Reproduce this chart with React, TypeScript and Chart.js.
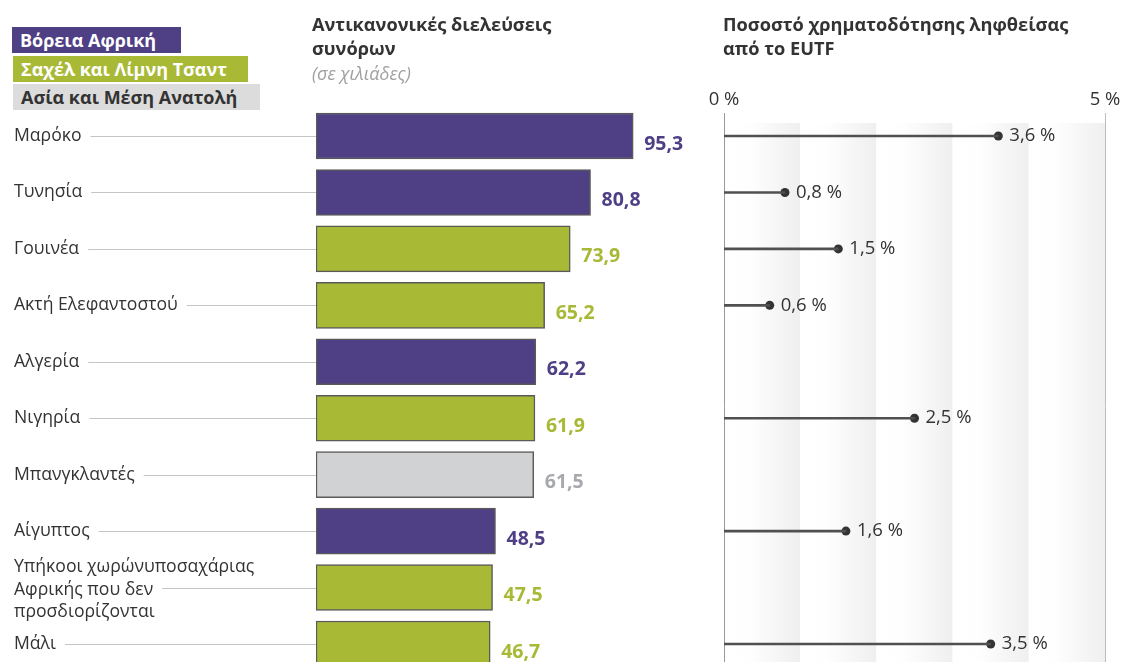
import React, { useEffect, useRef } from "react";
import { Chart, registerables } from "chart.js";

Chart.register(...registerables);

const FONT = '"Open Sans", "Noto Sans", sans-serif';

const categories: (string | string[])[] = [
  "Μαρόκο",
  "Τυνησία",
  "Γουινέα",
  "Ακτή Ελεφαντοστού",
  "Αλγερία",
  "Νιγηρία",
  "Μπανγκλαντές",
  "Αίγυπτος",
  ["Υπήκοοι χωρώνυποσαχάριας", "Αφρικής που δεν", "προσδιορίζονται"],
  "Μάλι",
];
const crossings = [95.3, 80.8, 73.9, 65.2, 62.2, 61.9, 61.5, 48.5, 47.5, 46.7];
const regions = ["north", "north", "sahel", "sahel", "north", "sahel", "asia", "north", "sahel", "sahel"];
const fundingShare: (number | null)[] = [3.6, 0.8, 1.5, 0.6, null, 2.5, null, 1.6, null, 3.5];
const fundingTicks = [0, 5];

const legendLabels = ["Βόρεια Αφρική", "Σαχέλ και Λίμνη Τσαντ", "Ασία και Μέση Ανατολή"];
const legendKeys = ["north", "sahel", "asia"];

const barColors: Record<string, string> = { north: "#4f3f84", sahel: "#a8b936", asia: "#d1d2d4" };
const labelColors: Record<string, string> = { north: "#4f3f84", sahel: "#a8b936", asia: "#a7a9ac" };
const legendBg: Record<string, string> = { north: "#4f3f84", sahel: "#a8b936", asia: "#dcdcdc" };
const legendFg: Record<string, string> = { north: "#ffffff", sahel: "#ffffff", asia: "#333333" };

const BAR_BASE = -12.5;
const CANVAS_H = 700;
const PAD_TOP = 107.8;
const PAD_BOTTOM = CANVAS_H - (PAD_TOP + 564.4);

const fmt = (v: number) => v.toFixed(1).replace(".", ",");

const leftDecor = {
  id: "leftDecor",
  afterDatasetsDraw(chart: any) {
    const ctx = chart.ctx;
    const xs = chart.scales.x;
    const ys = chart.scales.y;
    const meta = chart.getDatasetMeta(0);
    const barLeft = xs.getPixelForValue(BAR_BASE);
    ctx.save();
    categories.forEach((cat, i) => {
      const yc = ys.getPixelForValue(i);
      const lines = Array.isArray(cat) ? cat : [cat];
      ctx.font = `17.6px ${FONT}`;
      ctx.fillStyle = "#333";
      ctx.textAlign = "left";
      ctx.textBaseline = "middle";
      const lh = 22.5;
      const shift = lines.length > 1 ? 2 : 0;
      lines.forEach((l, j) => {
        ctx.fillText(l, 14, yc + shift + (j - (lines.length - 1) / 2) * lh);
      });
      const mid = lines[Math.floor(lines.length / 2)];
      const w = ctx.measureText(mid).width;
      ctx.strokeStyle = "#c4c4c4";
      ctx.lineWidth = 1;
      ctx.beginPath();
      ctx.moveTo(14 + w + 9, Math.round(yc) + 0.5);
      ctx.lineTo(barLeft, Math.round(yc) + 0.5);
      ctx.stroke();

      const bar = meta.data[i];
      ctx.font = `bold 19.5px ${FONT}`;
      ctx.fillStyle = labelColors[regions[i]];
      ctx.fillText(fmt(crossings[i]), bar.x + 11, yc + 8);
    });
    ctx.restore();
  },
};

const rightDecor = {
  id: "rightDecor",
  beforeDatasetsDraw(chart: any) {
    const ctx = chart.ctx;
    const xs = chart.scales.x;
    const top = 123;
    const bottom = chart.height;
    ctx.save();
    for (let k = 0; k < 5; k++) {
      const x0 = xs.getPixelForValue(k);
      const x1 = xs.getPixelForValue(k + 1);
      const g = ctx.createLinearGradient(x0, 0, x1, 0);
      g.addColorStop(0, "#ffffff");
      g.addColorStop(0.35, "#fefefe");
      g.addColorStop(1, "#efefef");
      ctx.fillStyle = g;
      ctx.fillRect(x0, top, x1 - x0, bottom - top);
    }
    ctx.lineWidth = 1;
    fundingTicks.forEach((t, i) => {
      const x = Math.round(xs.getPixelForValue(t)) + 0.5;
      ctx.strokeStyle = i === 0 ? "#9a9a9a" : "#bdbdbd";
      ctx.beginPath();
      ctx.moveTo(x, 113);
      ctx.lineTo(x, bottom);
      ctx.stroke();
      ctx.font = `18.5px ${FONT}`;
      ctx.fillStyle = "#333";
      ctx.textAlign = "center";
      ctx.textBaseline = "middle";
      ctx.fillText(`${t} %`, xs.getPixelForValue(t), 100);
    });
    ctx.restore();
  },
  afterDatasetsDraw(chart: any) {
    const ctx = chart.ctx;
    const xs = chart.scales.x;
    const ys = chart.scales.y;
    ctx.save();
    ctx.font = `18.5px ${FONT}`;
    ctx.fillStyle = "#333";
    ctx.textAlign = "left";
    ctx.textBaseline = "middle";
    fundingShare.forEach((v, i) => {
      if (v == null) return;
      ctx.fillText(`${fmt(v)} %`, xs.getPixelForValue(v) + 11, ys.getPixelForValue(i));
    });
    ctx.restore();
  },
};

export default function App() {
  const leftRef = useRef<HTMLCanvasElement>(null);
  const rightRef = useRef<HTMLCanvasElement>(null);

  useEffect(() => {
    document.body.style.margin = "0";
    document.body.style.overflow = "hidden";
    const left = new Chart(leftRef.current!, {
      type: "bar",
      data: {
        labels: categories as any,
        datasets: [
          {
            data: crossings,
            base: BAR_BASE,
            backgroundColor: regions.map((r) => barColors[r]),
            borderColor: "#5a5a5a",
            borderWidth: 1.5,
            borderSkipped: false,
            barThickness: 46,
          } as any,
        ],
      },
      options: {
        indexAxis: "y",
        animation: false,
        responsive: true,
        maintainAspectRatio: false,
        layout: { padding: { top: PAD_TOP, bottom: PAD_BOTTOM, left: 316, right: 0 } },
        scales: {
          x: { type: "linear", min: BAR_BASE, max: 118, display: false },
          y: { type: "category", display: false },
        },
        plugins: { legend: { display: false }, tooltip: { enabled: false } },
      },
      plugins: [leftDecor],
    });

    const right = new Chart(rightRef.current!, {
      type: "bar",
      data: {
        labels: categories as any,
        datasets: [
          {
            type: "bar",
            data: fundingShare,
            backgroundColor: "#505050",
            barThickness: 2,
            borderWidth: 0,
          } as any,
          {
            type: "line",
            data: fundingShare,
            showLine: false,
            pointRadius: 4.5,
            pointBackgroundColor: "#333",
            pointBorderWidth: 0,
          } as any,
        ],
      },
      options: {
        indexAxis: "y",
        animation: false,
        responsive: true,
        maintainAspectRatio: false,
        layout: { padding: { top: PAD_TOP, bottom: PAD_BOTTOM, left: 24, right: 18 } },
        scales: {
          x: { type: "linear", min: 0, max: 5, display: false },
          y: { type: "category", display: false, offset: true },
        },
        plugins: { legend: { display: false }, tooltip: { enabled: false } },
      },
      plugins: [rightDecor],
    });

    return () => {
      left.destroy();
      right.destroy();
    };
  }, []);

  const legendPos = [
    { left: 12, top: 27, width: 169 },
    { left: 13, top: 56, width: 235 },
    { left: 13, top: 84, width: 247 },
  ];

  return (
    <div style={{ position: "relative", width: 1123, height: 662, overflow: "hidden", fontFamily: FONT, background: "#fff" }}>
      <div style={{ position: "absolute", left: 0, top: 0, width: 700, height: CANVAS_H }}>
        <canvas ref={leftRef} />
      </div>
      <div style={{ position: "absolute", left: 700, top: 0, width: 423, height: CANVAS_H }}>
        <canvas ref={rightRef} />
      </div>
      {legendKeys.map((k, i) => (
        <div
          key={k}
          style={{
            position: "absolute",
            left: legendPos[i].left,
            top: legendPos[i].top,
            width: legendPos[i].width,
            height: 26,
            lineHeight: "26px",
            background: legendBg[k],
            color: legendFg[k],
            fontWeight: 700,
            fontSize: 18,
            paddingLeft: 8,
            boxSizing: "border-box",
            whiteSpace: "nowrap",
          }}
        >
          {legendLabels[i]}
        </div>
      ))}
      <div style={{ position: "absolute", left: 312, top: 12, fontSize: 18.2, fontWeight: 700, color: "#333", lineHeight: "24px", whiteSpace: "nowrap" }}>
        Αντικανονικές διελεύσεις
        <br />
        συνόρων
      </div>
      <div style={{ position: "absolute", left: 312, top: 61, fontSize: 18, fontStyle: "italic", color: "#a0a0a0", lineHeight: "24px", whiteSpace: "nowrap" }}>
        (σε χιλιάδες)
      </div>
      <div style={{ position: "absolute", left: 723, top: 12, fontSize: 18.2, fontWeight: 700, color: "#333", lineHeight: "24px", whiteSpace: "nowrap" }}>
        Ποσοστό χρηματοδότησης ληφθείσας
        <br />
        από το EUTF
      </div>
    </div>
  );
}
